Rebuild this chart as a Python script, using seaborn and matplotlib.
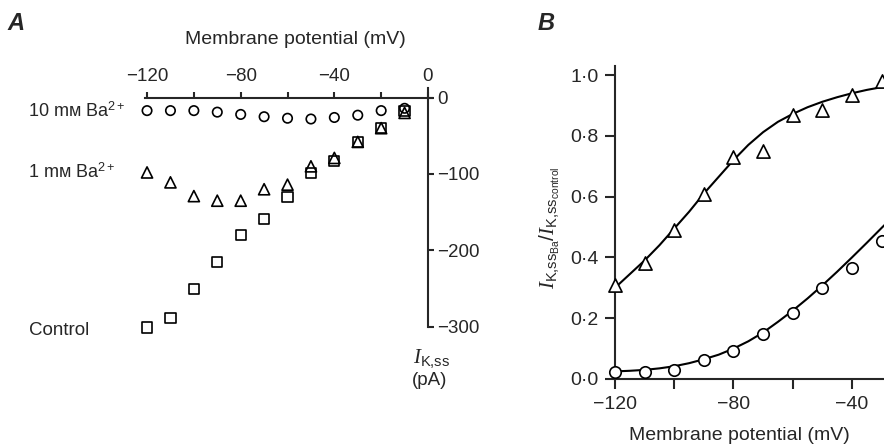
"""
plot.py - Ba2+ block of steady-state K+ current (panels A and B)
"""

import matplotlib
matplotlib.use('Agg')
import matplotlib.pyplot as plt
import seaborn as sns

# Style
sns.set_style('ticks')
plt.rcParams['font.family'] = ['Liberation Sans', 'DejaVu Sans']
plt.rcParams['mathtext.fontset'] = 'custom'
plt.rcParams['mathtext.rm'] = 'Liberation Sans'
plt.rcParams['mathtext.it'] = 'Liberation Serif:italic'
plt.rcParams['mathtext.bf'] = 'Liberation Sans:bold'

# Panel A: I-V relations (pA)
voltage = [-120, -110, -100, -90, -80, -70, -60, -50, -40, -30, -20, -10]
ba10_current = [-17, -17, -17, -19, -22, -25, -27, -28, -26, -23, -17, -14]
ba1_current = [-98, -111, -129, -135, -135, -120, -114, -90, -79, -58, -40, -20]
control_current = [-301, -289, -251, -215, -180, -159, -130, -99, -83, -58, -40, -18]

# Panel B: fraction of control current remaining
ratio_voltage = [-120, -110, -100, -90, -80, -70, -60, -50, -40, -30]
ratio_ba1 = [0.31, 0.38, 0.49, 0.61, 0.73, 0.75, 0.87, 0.885, 0.935, 0.98]
ratio_ba10 = [0.022, 0.022, 0.03, 0.063, 0.093, 0.148, 0.216, 0.30, 0.366, 0.455]

# fitted curves
fit_voltage = [-120, -115, -110, -105, -100, -95, -90, -85, -80, -75,
               -70, -65, -60, -55, -50, -45, -40, -35, -30, -25]
fit_ba1 = [0.30, 0.345, 0.39, 0.44, 0.495, 0.55, 0.61, 0.665, 0.72, 0.77,
           0.812, 0.846, 0.872, 0.894, 0.912, 0.927, 0.94, 0.951, 0.96, 0.967]
fit_ba10 = [0.025, 0.027, 0.03, 0.035, 0.042, 0.052, 0.065, 0.08, 0.10, 0.124,
            0.153, 0.188, 0.225, 0.265, 0.308, 0.353, 0.40, 0.448, 0.497, 0.545]

W, H = 884, 444
fig = plt.figure(figsize=(W / 100, H / 100), dpi=100)

def fx(px):
    return px / W

def fy(py):
    return 1 - py / H

LW = 1.5
open_kw = dict(facecolors='none', edgecolors='black', linewidth=1.2,
               clip_on=False, zorder=3, legend=False)

# ---------------- Panel A ----------------
axA = fig.add_axes([0.1531, 0.2471, 0.3443, 0.5588])
sns.scatterplot(x=voltage, y=ba10_current, marker='o', s=46, ax=axA, **open_kw)
sns.scatterplot(x=voltage, y=ba1_current, marker='^', s=64, ax=axA, **open_kw)
sns.scatterplot(x=voltage, y=control_current, marker='s', s=54, ax=axA, **open_kw)

axA.set_xlim(-125, 5)
axA.set_ylim(-310, 15)
for side in ['left', 'bottom']:
    axA.spines[side].set_visible(False)
axA.spines['top'].set_position(('data', 0))
axA.spines['right'].set_position(('data', 0))
axA.spines['top'].set_bounds(-120.9, 1.7)
axA.spines['right'].set_bounds(-300, 12.7)
for side in ['top', 'right']:
    axA.spines[side].set_linewidth(LW)

axA.xaxis.set_ticks_position('top')
axA.yaxis.set_ticks_position('right')
axA.set_xticks([-120, -100, -80, -60, -40, -20, 0])
axA.set_xticklabels(['\u2212120', '', '\u221280', '', '\u221240', '', '0'])
axA.set_yticks([0, -100, -200, -300])
axA.set_yticklabels(['0', '\u2212100', '\u2212200', '\u2212300'])
axA.tick_params(axis='x', direction='out', length=4, width=LW, pad=5, labelsize=13.5)
axA.tick_params(axis='y', direction='out', length=4, width=LW, pad=2.5, labelsize=13.5)
axA.set_xlabel('')
axA.set_ylabel('')

fig.text(fx(295), fy(44), 'Membrane potential (mV)', ha='center', va='baseline', fontsize=14)
fig.text(fx(28), fy(117), '10 m\u1d0d Ba$^{2+}$', ha='left', va='baseline', fontsize=13)
fig.text(fx(28), fy(178), '1 m\u1d0d Ba$^{2+}$', ha='left', va='baseline', fontsize=13)
fig.text(fx(29), fy(335), 'Control', ha='left', va='baseline', fontsize=13.5)
fig.text(fx(432), fy(363), r'$I_{\mathrm{K{,}ss}}$', ha='center', va='baseline', fontsize=15)
fig.text(fx(430), fy(385), '(pA)', ha='center', va='baseline', fontsize=13.5)
fig.text(fx(7), fy(30), 'A', ha='left', va='baseline', fontsize=17,
         fontstyle='italic', fontweight='bold')

# ---------------- Panel B ----------------
axB = fig.add_axes([0.6957, 0.1464, 0.3351, 0.7052])
sns.lineplot(x=fit_voltage, y=fit_ba1, color='black', linewidth=1.5, ax=axB, zorder=2)
sns.lineplot(x=fit_voltage, y=fit_ba10, color='black', linewidth=1.5, ax=axB, zorder=2)
filled_kw = dict(open_kw, facecolors='white')
sns.scatterplot(x=ratio_voltage, y=ratio_ba1, marker='^', s=90, ax=axB, **filled_kw)
sns.scatterplot(x=ratio_voltage, y=ratio_ba10, marker='o', s=68, ax=axB, **filled_kw)

axB.set_xlim(-120, -20)
axB.set_ylim(0, 1.03)
sns.despine(ax=axB)
for side in ['left', 'bottom']:
    axB.spines[side].set_linewidth(LW)
axB.set_xticks([-120, -100, -80, -60, -40, -20])
axB.set_xticklabels(['\u2212120', '', '\u221280', '', '\u221240', ''])
yt = [0.0, 0.2, 0.4, 0.6, 0.8, 1.0]
axB.set_yticks(yt)
axB.set_yticklabels([f'{v:.1f}'.replace('.', '\u00b7') for v in yt])
axB.tick_params(direction='out', length=7, width=LW, pad=5, labelsize=14)
axB.set_xlabel('')
axB.set_ylabel('')

fig.text(fx(739), fy(440), 'Membrane potential (mV)', ha='center', va='baseline', fontsize=14)
fig.text(fx(550), fy(228), r'$I_{\mathrm{K{,}ss_{Ba}}}/I_{\mathrm{K{,}ss_{control}}}$',
         ha='center', va='center', rotation=90, fontsize=15)
fig.text(fx(538), fy(30), 'B', ha='left', va='baseline', fontsize=17,
         fontstyle='italic', fontweight='bold')

fig.savefig('out.png', dpi=100)
